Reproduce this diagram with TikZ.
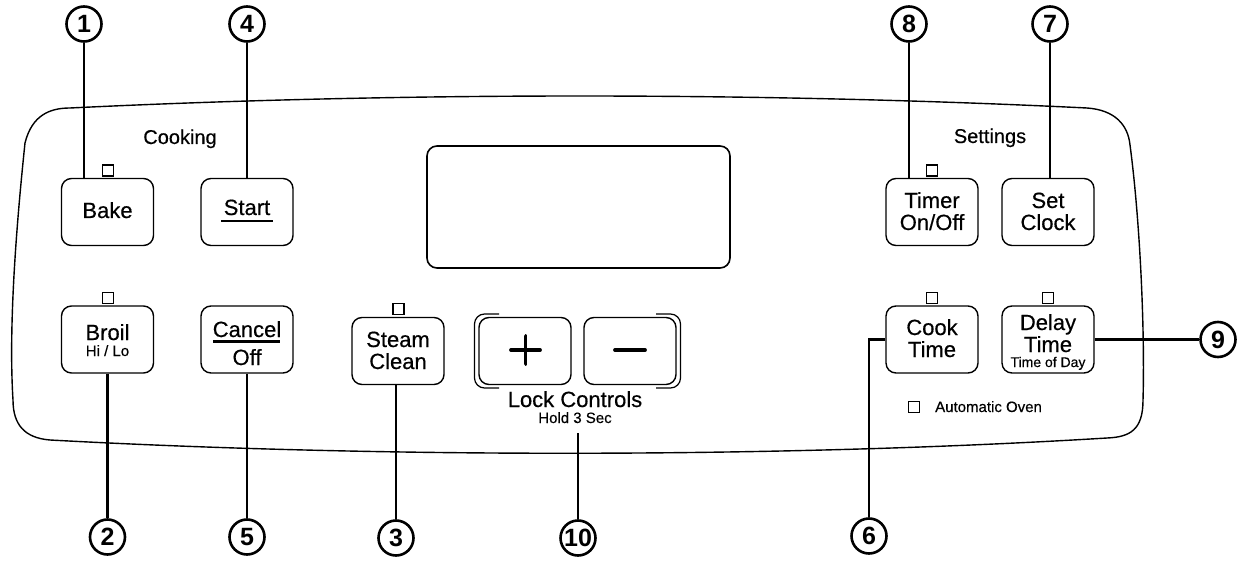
\documentclass[tikz,border=0pt]{standalone}
\usepackage{fontspec}
\setmainfont{Liberation Sans}
\newfontfamily\medfont{Liberation Sans}[FakeBold=0.45]
\begin{document}
\begin{tikzpicture}[x=1pt,y=-1pt,
 btn/.style={draw, line width=1.4pt, rounded corners=10pt, minimum width=92pt, minimum height=67pt, inner sep=0pt},
 led/.style={draw, line width=1.3pt, minimum size=11pt, inner sep=0pt},
 num/.style={circle, draw, line width=2.6pt, minimum size=35pt, inner sep=0pt, font=\fontsize{25}{25}\selectfont\bfseries},
 lead/.style={line width=2.8pt},
 big/.style={font=\medfont\fontsize{22}{22}\selectfont, anchor=base, inner sep=0pt},
 small/.style={font=\medfont\fontsize{15}{15}\selectfont, anchor=base, inner sep=0pt},
 tiny/.style={font=\medfont\fontsize{14}{14}\selectfont, anchor=base, inner sep=0pt},
 head/.style={font=\medfont\fontsize{20}{20}\selectfont, anchor=base, inner sep=0pt},
 bar/.style={line width=2.4pt},
 sign/.style={line width=3.8pt, line cap=round}]
\useasboundingbox (0,0) rectangle (1244,561);
% panel outline
\draw[line width=1.4pt] (70,108) .. controls (400,92) and (760,92) .. (1087,108)
  .. controls (1115,110) and (1128,125) .. (1130,145)
  .. controls (1140,220) and (1145,330) .. (1143,400)
  .. controls (1143,430) and (1130,437) .. (1107,438)
  .. controls (780,458) and (380,458) .. (50,440)
  .. controls (25,438) and (13,425) .. (13,400)
  .. controls (8,320) and (18,210) .. (25,143)
  .. controls (32,115) and (50,108) .. (70,108) -- cycle;
% display
\node[draw, line width=1.6pt, rounded corners=10pt, minimum width=303pt, minimum height=122pt, inner sep=0pt] (display) at (578.5,207) {};
% headings
\node[head] (cooking) at (180,144) {Cooking};
\node[head] (settings) at (990,143) {Settings};
% buttons
\node[btn] (bake) at (107.5,212) {};
\node[big] (baket) at (107.5,218) {Bake};
\node[btn] (start) at (247,212) {};
\node[big] (startt) at (247,215) {Start};
\draw[bar] (221,221) -- (273,221);
\node[btn] (broil) at (107.5,339.5) {};
\node[big] (broilt) at (107.5,340) {Broil};
\node[small] (broils) at (107.5,356) {Hi / Lo};
\node[btn] (cancel) at (247,339.5) {};
\node[big] (cancelt) at (247,337) {Cancel};
\draw[bar] (213,341.5) -- (280,341.5);
\node[big] (offt) at (247,365) {Off};
\node[btn] (steam) at (398,351) {};
\node[big] (steamt) at (398,347) {Steam};
\node[big] (cleant) at (398,369) {Clean};
\node[btn] (plus) at (525,351) {};
\node[btn] (minus) at (630,351) {};
\draw[sign] (511,350) -- (540,350);
\draw[sign] (525.5,336) -- (525.5,364);
\draw[sign] (615,350) -- (645,350);
\draw[line width=1.2pt, rounded corners=10pt] (499,314) -- (474.5,314) -- (474.5,388) -- (499,388);
\draw[line width=1.2pt, rounded corners=10pt] (656,314) -- (680.5,314) -- (680.5,388) -- (656,388);
\node[big] (lockt) at (575,407) {Lock Controls};
\node[small] (holdt) at (575,423) {Hold 3 Sec};
\node[btn] (timer) at (932,212) {};
\node[big] (timert) at (932,208) {Timer};
\node[big] (onofft) at (932,230) {On/Off};
\node[btn] (setclock) at (1048,212) {};
\node[big] (sett) at (1048,208) {Set};
\node[big] (clockt) at (1048,230) {Clock};
\node[btn] (cook) at (932,339.5) {};
\node[big] (cookt) at (932,335) {Cook};
\node[big] (cooktime) at (932,357) {Time};
\node[btn] (delay) at (1048,339.5) {};
\node[big] (delayt) at (1048,330) {Delay};
\node[big] (delaytime) at (1048,352) {Time};
\node[tiny] (tod) at (1048,367) {Time of Day};
% indicator lights
\node[led] (ledbake) at (108,170.5) {};
\node[led] (ledbroil) at (108,298) {};
\node[led] (ledsteam) at (398.5,309) {};
\node[led] (ledtimer) at (932,170.5) {};
\node[led] (ledcook) at (932,298) {};
\node[led] (leddelay) at (1048,298) {};
\node[led] (ledauto) at (914,407) {};
\node[small, anchor=base west] (autot) at (935,412) {Automatic Oven};
% callouts
\node[num] (c1) at (84,24) {1};
\node[num] (c4) at (247,24) {4};
\node[num] (c8) at (909,24) {8};
\node[num] (c7) at (1050,24) {7};
\node[num] (c2) at (107.5,537) {2};
\node[num] (c5) at (247,537) {5};
\node[num] (c3) at (396,538) {3};
\node[num] (c10) at (578,538) {10};
\node[num] (c6) at (869,536) {6};
\node[num] (c9) at (1218,339.5) {9};
\coordinate (l10) at (578,433);
\draw[lead] (c1.south) -- (c1.south |- bake.north);
\draw[lead] (c4.south) -- (start.north);
\draw[lead] (c8.south) -- (c8.south |- timer.north);
\draw[lead] (c7.south) -- (c7.south |- setclock.north);
\draw[lead] (broil.south) -- (c2.north);
\draw[lead] (cancel.south) -- (c5.north);
\draw[lead] (c3.north |- steam.south) -- (c3.north);
\draw[lead] (l10) -- (c10.north);
\draw[lead] (cook.west) -| (c6.north);
\draw[lead] (delay.east) -- (c9.west);
\end{tikzpicture}
\end{document}
